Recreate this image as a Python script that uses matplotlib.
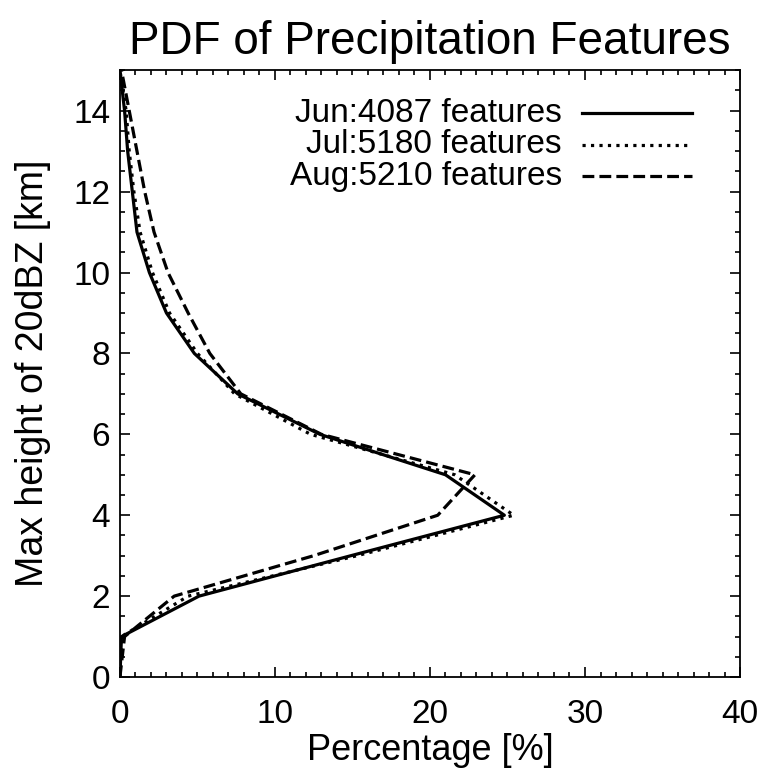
import numpy as np
import matplotlib.pyplot as plt
from matplotlib.ticker import MultipleLocator

plt.rcParams['font.family'] = ['Liberation Sans', 'DejaVu Sans']

# alturas (km) e porcentagens
altura = [0, 1, 2, 3, 4, 5, 6, 7, 8, 9, 10, 11, 12, 13, 14, 15]
jun = [0.0, 0.1, 5.1, 14.9, 24.8, 21.0, 12.9, 7.6, 4.8, 3.0, 1.9, 1.1, 0.8, 0.5, 0.3, 0.0]
jul = [0.0, 0.1, 4.4, 15.3, 25.4, 21.6, 12.3, 7.4, 5.0, 3.2, 2.1, 1.3, 0.9, 0.6, 0.4, 0.0]
ago = [0.0, 0.3, 3.5, 12.5, 20.5, 22.9, 13.0, 7.8, 5.8, 4.4, 3.1, 2.2, 1.6, 1.1, 0.6, 0.1]

rotulos = ['Jun:4087 features', 'Jul:5180 features', 'Aug:5210 features']
estilos = ['-', ':', '--']

fig = plt.figure(figsize=(7.59, 7.72), dpi=100)
ax = fig.add_axes([0.158, 0.123, 0.817, 0.786])

for serie, ls in zip([jun, jul, ago], estilos):
    ax.plot(serie, altura, color='black', linestyle=ls, linewidth=2.3)

ax.set_xlim(0, 40)
ax.set_ylim(0, 15)
ax.xaxis.set_major_locator(MultipleLocator(10))
ax.xaxis.set_minor_locator(MultipleLocator(1))
ax.yaxis.set_major_locator(MultipleLocator(2))
ax.yaxis.set_minor_locator(MultipleLocator(0.5))
ax.tick_params(which='both', direction='in', top=True, right=True, width=1.2, labelsize=24)
ax.tick_params(which='major', length=7)
ax.tick_params(which='minor', length=3.5)
ax.tick_params(axis='x', pad=16)
ax.tick_params(axis='y', pad=7)
for s in ax.spines.values():
    s.set_linewidth(1.3)

ax.set_xlabel('Percentage [%]', fontsize=26, labelpad=2)
ax.set_ylabel('Max height of 20dBZ [km]', fontsize=27, labelpad=16)
ax.set_title('PDF of Precipitation Features', fontsize=33, pad=12)

# legenda desenhada a mao (texto alinhado a direita, linha depois)
for i, (txt, ls) in enumerate(zip(rotulos, estilos)):
    yy = 0.929 - i * 0.052
    ax.text(0.713, yy, txt, transform=ax.transAxes, ha='right', va='center', fontsize=24)
    ax.plot([0.745, 0.923], [yy, yy], transform=ax.transAxes, color='black',
            linestyle=ls, linewidth=2.3)

fig.savefig('out.png', dpi=100)
